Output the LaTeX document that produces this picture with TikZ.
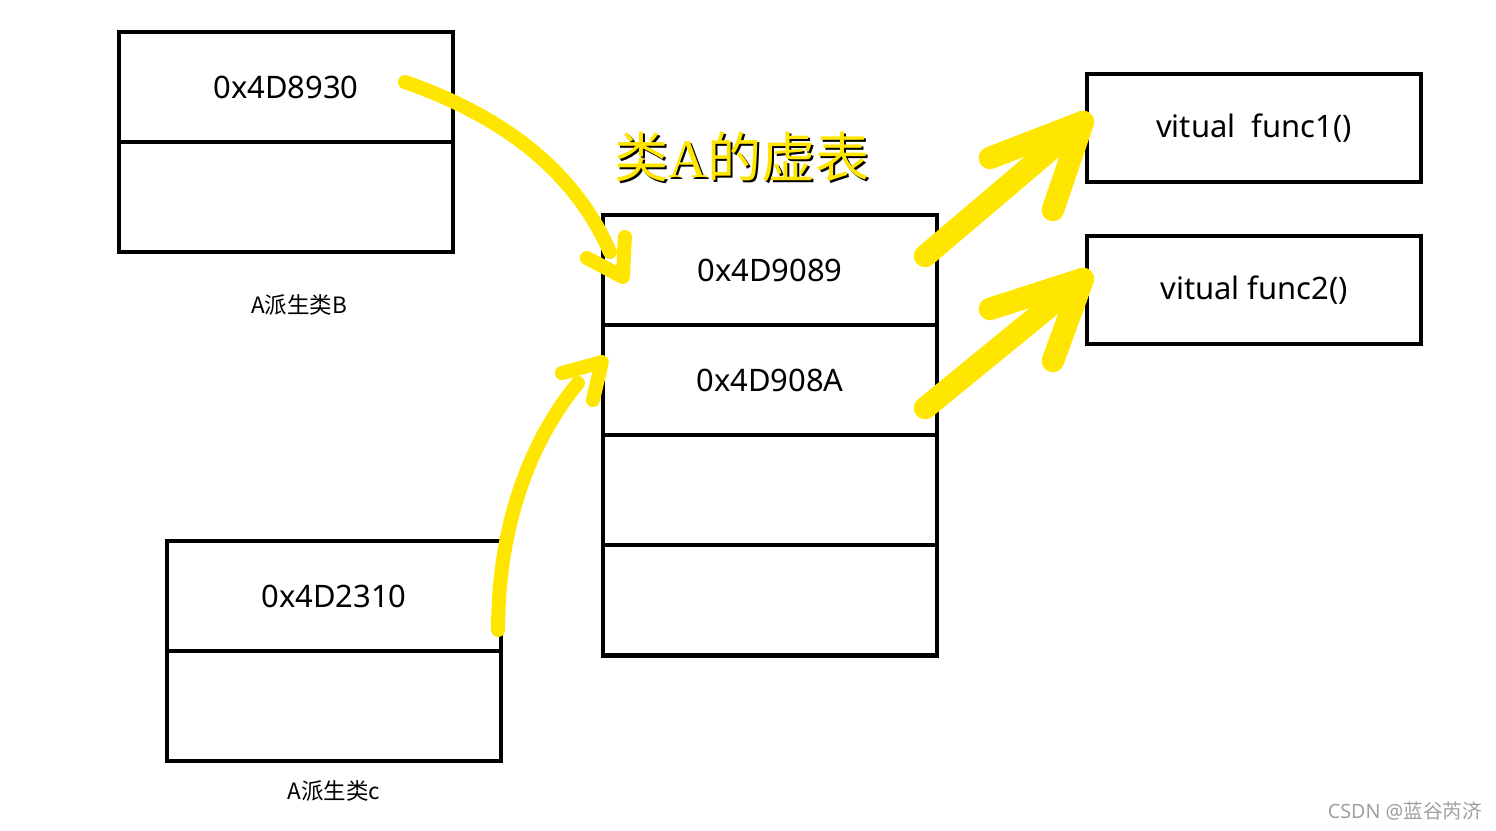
\documentclass[tikz,border=0pt]{standalone}
\usepackage{fontspec}
\setmainfont{Noto Sans}
\newfontfamily\cjk{Noto Sans CJK SC}
\newfontfamily\serifA{Liberation Serif}
\usetikzlibrary{positioning,calc}

\definecolor{marker}{HTML}{FFE600}

\tikzset{
	cell/.style={draw, line width=1.3pt, minimum width=3.34cm, minimum height=1.1cm,
		inner sep=0pt, outer sep=0pt, font=\fontsize{8.8}{10}\selectfont},
	caption/.style={font=\cjk\fontsize{6.4}{8}\selectfont},
	pen/.style={draw=marker, line width=4pt, line cap=round, line join=round},
	brush/.style={draw=marker, line width=6.4pt, line cap=round, line join=round},
}

\begin{document}
\begin{tikzpicture}[x=0.01cm, y=-0.01cm]
		\useasboundingbox (0, 0) rectangle (1496, 831);
	
		% derived class B
		\node[cell] (b1) at (286, 87) {0x4D8930};
		\node[cell, below=0pt of b1] (b2) {};
		\node[caption] (labB) at (299, 305) {A派生类B};
		
		% derived class c
		\node[cell] (c1) at (334, 596) {0x4D2310};
		\node[cell, below=0pt of c1] (c2) {};
		\node[caption] (labC) at (334, 791) {A派生类c};
		
		% vtable of A
		\node[cell] (a1) at (770, 270) {0x4D9089};
		\node[cell, below=0pt of a1] (a2) {0x4D908A};
		\node[cell, below=0pt of a2] (a3) {};
		\node[cell, below=0pt of a3] (a4) {};
		
		\node[black, font=\cjk\fontsize{15.4}{17}\selectfont] at (744, 159) {类{\serifA A}的虚表};
		\node[marker, font=\cjk\fontsize{15.4}{17}\selectfont] (title) at (742, 157) {类{\serifA A}的虚表};
		
		% virtual functions
		\node[cell, minimum height=1.08cm] (f1) at (1254, 128) {vitual\ \ func1()};
		\node[cell, minimum height=1.08cm] (f2) at (1254, 290) {vitual func2()};
		
		\node[gray!75, font=\fontsize{5.6}{7}\selectfont] (mark) at (1405, 811) {CSDN @{\cjk 蓝谷芮济}};
		
		% hand drawn pointers
		\coordinate (s1) at ($(b1.center)+(119,-5)$);
		\coordinate (t1) at ($(a1.west)+(20,7)$);
		\draw[pen] (s1) .. controls +(100,35) and +(-35,-80) .. ($(t1)+(-13,-25)$);
		\draw[pen] ($(t1)+(-36,-19)$) -- (t1) -- ($(t1)+(2,-40)$);
		
		\coordinate (s2) at ($(c1.east)+(-3,34)$);
		\coordinate (t2) at ($(a2.west)+(-1,-18)$);
		\draw[pen] (s2) .. controls +(0,-110) and +(-45,55) .. ($(t2)+(-24,21)$);
		\draw[pen] ($(t2)+(-40,11)$) -- (t2) -- ($(t2)+(-9,38)$);
		
		\coordinate (s3) at ($(a1.east)+(-12,-14)$);
		\coordinate (t3) at ($(f1.west)+(-4,-6)$);
		\draw[brush] (s3) -- (t3);
		\draw[brush] ($(t3)+(-93,36)$) -- (t3) -- ($(t3)+(-30,88)$);
		
		\coordinate (s4) at ($(a2.east)+(-12,28)$);
		\coordinate (t4) at ($(f2.west)+(-4,-11)$);
		\draw[brush] (s4) -- (t4);
		\draw[brush] ($(t4)+(-93,30)$) -- (t4) -- ($(t4)+(-30,82)$);
	\end{tikzpicture}
\end{document}
